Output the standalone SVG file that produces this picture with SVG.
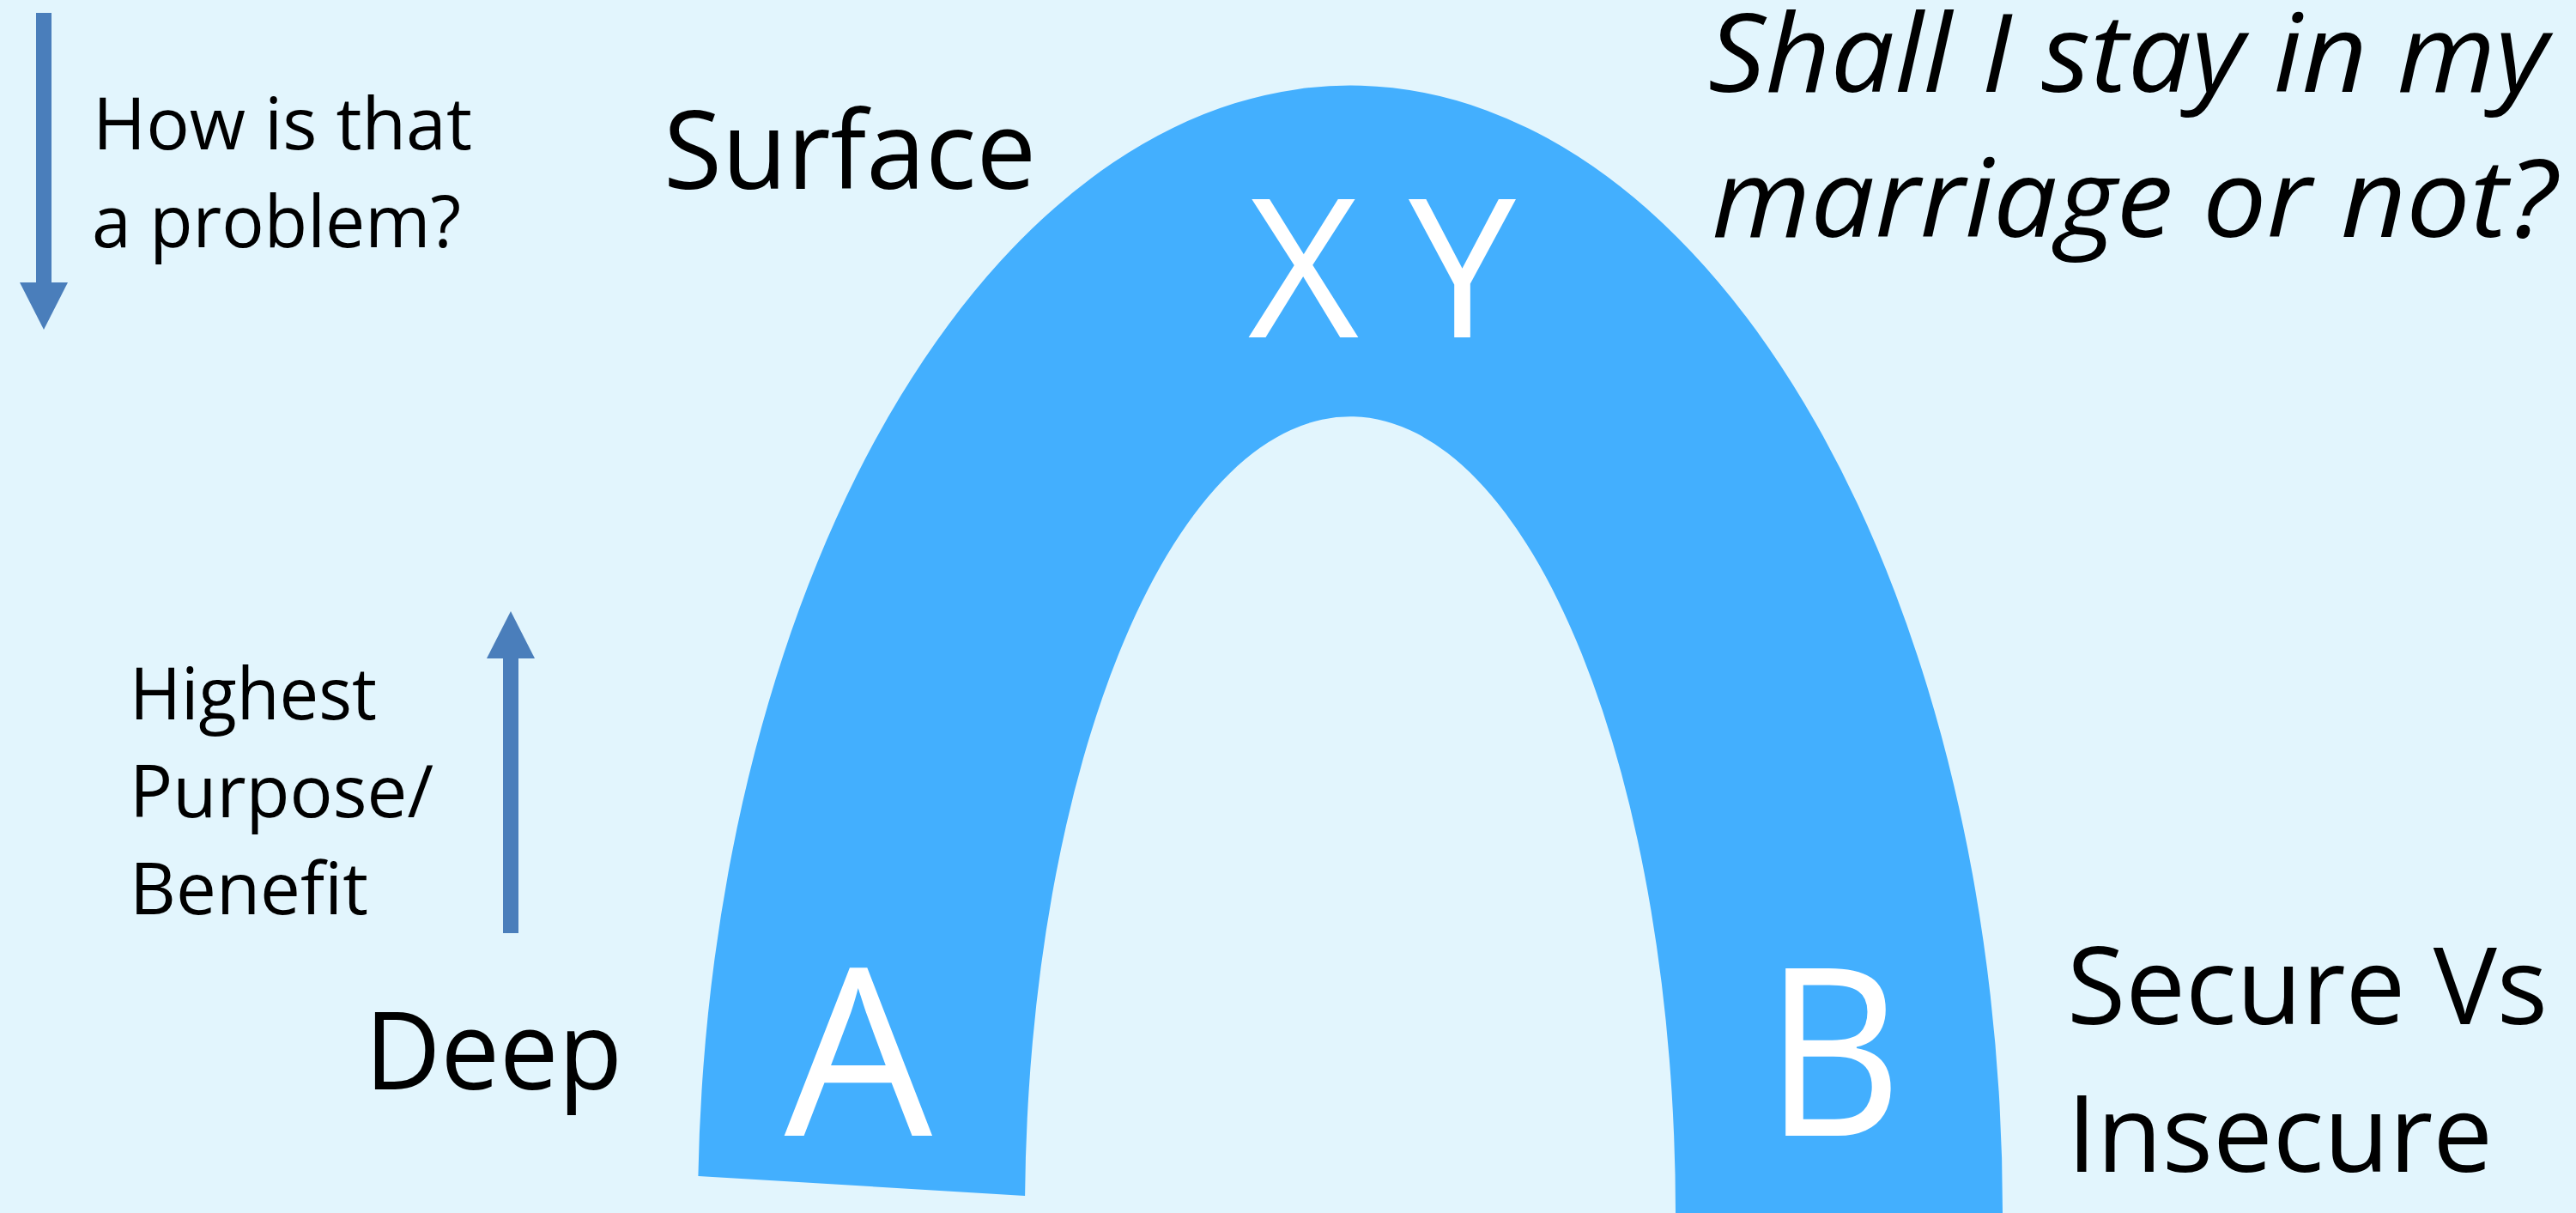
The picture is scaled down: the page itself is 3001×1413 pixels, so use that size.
<svg xmlns="http://www.w3.org/2000/svg" width="3001" height="1413" viewBox="0 0 3001 1413">
<style>
.lbl{font-family:"Open Sans","Liberation Sans",sans-serif;fill:#000;}
.wht{font-family:"Open Sans","Liberation Sans",sans-serif;fill:#fff;}
.it{font-style:italic;}
.arrow{fill:#4A7EBB;}
</style>
<rect x="0" y="0" width="3001" height="1413" fill="#E2F5FD"/>
<g id="arch">
<path d="M 813.4,1370 A 760 1313 0 0 1 2333,1413 L 2333,1420 L 1952,1420 L 1952,1413 A 379 929 0 0 0 1194.1,1393 Z" fill="#43AFFE"/>
</g>
<g id="connectors">
<g id="arrow-down">
<rect class="arrow" x="42" y="15" width="18" height="315"/>
<polygon class="arrow" points="23,329 79,329 51,384"/>
</g>
<g id="arrow-up">
<rect class="arrow" x="586" y="766" width="18" height="321"/>
<polygon class="arrow" points="567,767 623,767 595,712"/>
</g>
</g>
<g id="label-how">
<text class="lbl" font-size="84" x="108" y="174" textLength="442" lengthAdjust="spacingAndGlyphs">How is that</text>
<text class="lbl" font-size="84" x="107" y="288" textLength="430" lengthAdjust="spacingAndGlyphs">a problem?</text>
</g>
<g id="label-surface">
<text class="lbl" font-size="126" x="773" y="220" textLength="434" lengthAdjust="spacingAndGlyphs">Surface</text>
</g>
<g id="label-highest">
<text class="lbl" font-size="84" x="151" y="838" textLength="288" lengthAdjust="spacingAndGlyphs">Highest</text>
<text class="lbl" font-size="84" x="151" y="952" textLength="354" lengthAdjust="spacingAndGlyphs">Purpose/</text>
<text class="lbl" font-size="84" x="151" y="1065" textLength="278" lengthAdjust="spacingAndGlyphs">Benefit</text>
</g>
<g id="label-deep">
<text class="lbl" font-size="126" x="425" y="1269" textLength="300" lengthAdjust="spacingAndGlyphs">Deep</text>
</g>
<g id="label-question">
<text class="lbl it" font-size="127" x="1990" y="107" textLength="978" lengthAdjust="spacingAndGlyphs">Shall I stay in my</text>
<text class="lbl it" font-size="127" x="1994" y="276" textLength="984" lengthAdjust="spacingAndGlyphs">marriage or not?</text>
</g>
<g id="label-secure">
<text class="lbl" font-size="124" x="2408" y="1193" textLength="560" lengthAdjust="spacingAndGlyphs">Secure Vs</text>
<text class="lbl" font-size="124" x="2408" y="1365" textLength="496" lengthAdjust="spacingAndGlyphs">Insecure</text>
</g>
<g id="node-xy">
<text class="wht" font-size="225" x="1610" y="393" text-anchor="middle" textLength="312" lengthAdjust="spacingAndGlyphs">X Y</text>
</g>
<g id="node-a">
<text class="wht" font-size="273" x="1000" y="1323" text-anchor="middle">A</text>
</g>
<g id="node-b">
<text class="wht" font-size="273" x="2136" y="1323" text-anchor="middle" textLength="160" lengthAdjust="spacingAndGlyphs">B</text>
</g>
</svg>
